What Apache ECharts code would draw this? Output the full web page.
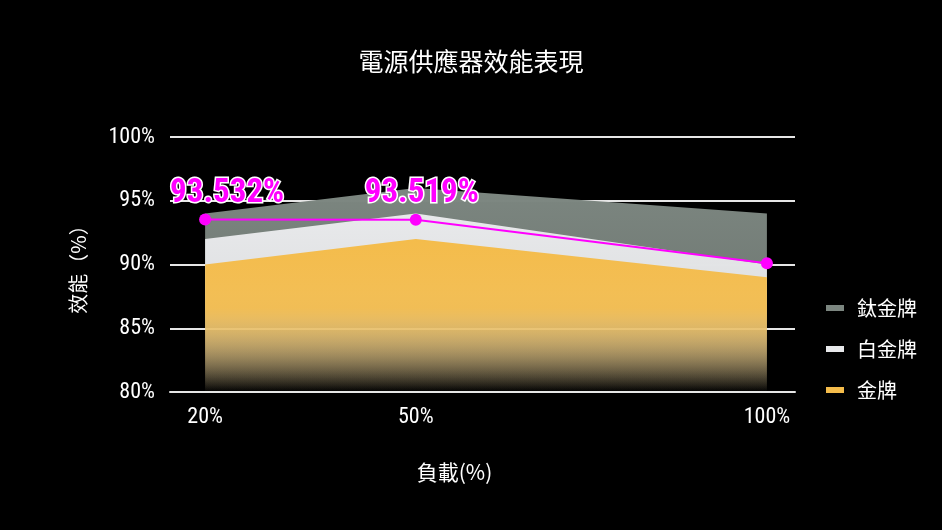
<!DOCTYPE html>
<html>
<head>
<meta charset="utf-8">
<script src="https://cdn.jsdelivr.net/npm/echarts@6/dist/echarts.min.js"></script>
<style>
html,body{margin:0;padding:0;background:#000;}
#c{width:942px;height:530px;}
</style>
</head>
<body>
<div id="c"></div>
<script>
var loads = [20, 50, 100];
var loadTicks = [20, 50, 100];
var titanium = [94, 96, 94];
var platinum = [92, 94, 90];
var gold = [90, 92, 89];
var measured = [93.532, 93.519, 90.1];
var showLabel = [true, true, false];

var NUM_FONT = "'Roboto Condensed', 'Open Sans Condensed', 'Liberation Sans Narrow', 'DejaVu Sans Condensed', sans-serif";
var CJK_FONT = "'Noto Sans CJK TC', 'Noto Sans', sans-serif";

function pairs(ys) { return loads.map(function (x, i) { return [x, ys[i]]; }); }
function grad(r, g, b) {
  return new echarts.graphic.LinearGradient(0, 0, 0, 1, [
    { offset: 0, color: 'rgba(' + r + ',' + g + ',' + b + ',1)' },
    { offset: 0.45, color: 'rgba(' + r + ',' + g + ',' + b + ',0.92)' },
    { offset: 1, color: 'rgba(' + r + ',' + g + ',' + b + ',0)' }
  ]);
}
function areaSeries(name, ys, r, g, b) {
  return {
    name: name, type: 'line', data: pairs(ys), symbol: 'none',
    lineStyle: { width: 0 }, itemStyle: { color: 'rgb(' + r + ',' + g + ',' + b + ')' },
    areaStyle: { color: grad(r, g, b), opacity: 1, origin: 'start' },
    silent: true, z: 2
  };
}

var chart = echarts.init(document.getElementById('c'), null, { renderer: 'canvas' });
chart.setOption({
  backgroundColor: '#000',
  animation: false,
  title: {
    text: '電源供應器效能表現', left: 'center', top: 44,
    textStyle: { color: '#fff', fontSize: 25, fontWeight: 'normal', fontFamily: CJK_FONT }
  },
  legend: {
    data: ['鈦金牌', '白金牌', '金牌'],
    orient: 'vertical', left: 821, top: 293, itemWidth: 18, itemHeight: 6, itemGap: 21,
    icon: 'rect',
    textStyle: { color: '#fff', fontSize: 20, fontFamily: CJK_FONT, padding: [0, 0, 0, 8] }
  },
  grid: { left: 170, right: 147, top: 137, bottom: 138 },
  xAxis: {
    type: 'value', min: 15, max: 104,
    name: '負載(%)', nameLocation: 'middle', nameGap: 70,
    nameTextStyle: { color: '#fff', fontSize: 21, fontFamily: CJK_FONT, padding: [0, 56, 0, 0] },
    axisLine: { show: true, lineStyle: { color: '#e6e6e6', width: 2 } },
    axisTick: { show: false },
    splitLine: { show: false },
    axisLabel: {
      customValues: loadTicks, color: '#fff', fontSize: 22, margin: 14, fontFamily: NUM_FONT,
      formatter: function (v) { return v + '%'; }
    }
  },
  yAxis: {
    type: 'value', min: 80, max: 100, interval: 5,
    name: '效能（%）', nameLocation: 'middle', nameGap: 82, nameRotate: 90,
    nameTextStyle: { color: '#fff', fontSize: 20, fontFamily: CJK_FONT },
    axisLine: { show: false }, axisTick: { show: false },
    splitLine: { lineStyle: { color: '#e6e6e6', width: 2 } },
    axisLabel: {
      color: '#fff', fontSize: 22, margin: 15, fontFamily: NUM_FONT,
      formatter: function (v) { return v + '%'; }
    }
  },
  series: [
    areaSeries('鈦金牌', titanium, 124, 134, 128),
    areaSeries('白金牌', platinum, 232, 233, 235),
    areaSeries('金牌', gold, 244, 188, 75),
    {
      name: '實測', type: 'line', z: 5,
      data: measured.map(function (v, i) {
        return {
          value: [loads[i], v],
          label: { show: showLabel[i], offset: i === 0 ? [22, 0] : [6, 0] }
        };
      }),
      symbol: 'circle', symbolSize: 12,
      lineStyle: { color: '#f0f', width: 2 },
      itemStyle: { color: '#f0f' },
      label: {
        position: 'top', distance: 3,
        color: '#f0f', fontSize: 33, fontWeight: 'bold', fontFamily: NUM_FONT,
        textBorderColor: '#fff', textBorderWidth: 3,
        formatter: function (p) { return p.value[1].toFixed(3) + '%'; }
      }
    }
  ]
});
</script>
</body>
</html>
